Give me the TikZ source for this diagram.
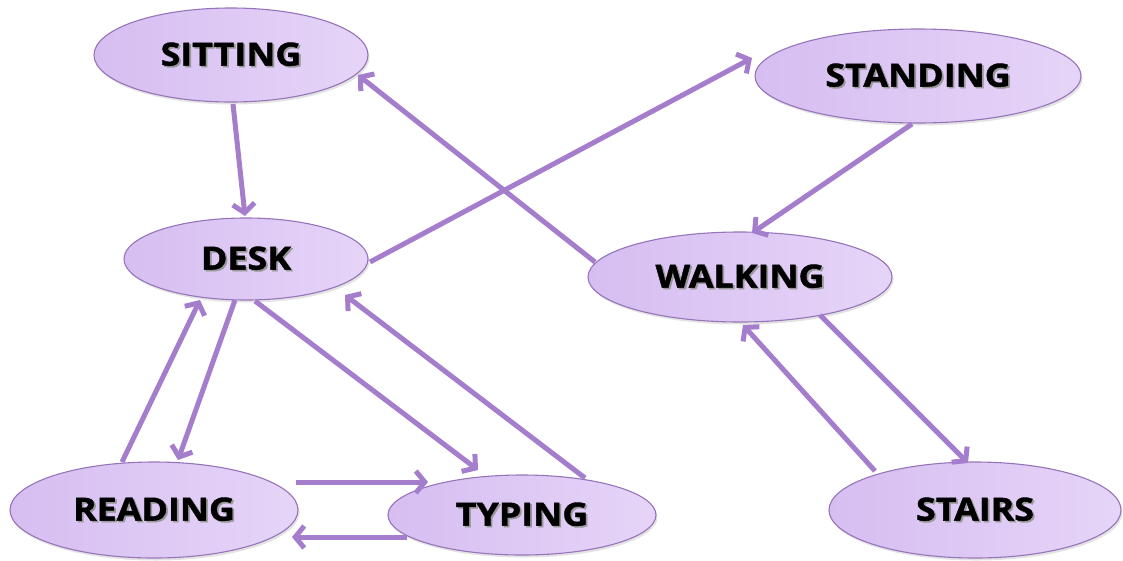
\documentclass[tikz,border=0pt]{standalone}
\usepackage{fontspec}
\setmainfont{Open Sans}[BoldFeatures={FakeBold=1.2}]
\usetikzlibrary{arrows.meta,shadows,shapes.geometric}

\definecolor{arrowpurple}{RGB}{164,126,204}
\definecolor{fillleft}{RGB}{214,190,241}
\definecolor{fillright}{RGB}{230,212,248}
\definecolor{rimpurple}{RGB}{150,116,186}

% label text, widened a little, with a soft grey drop behind it
\newcommand\shadowedlabel[1]{\scalebox{1.12}[1]{\rlap{\kern1.6pt\raisebox{-1.6pt}{\textcolor{black!40}{#1}}}#1}}

\tikzset{
  state/.style 2 args={ellipse, draw=rimpurple, line width=1.1pt,
    left color=fillleft, right color=fillright,
    minimum width=#1, minimum height=#2, inner sep=0pt,
    drop shadow={shadow xshift=1.5pt, shadow yshift=-2.5pt, opacity=0.22},
    font=\fontsize{32}{34}\selectfont\bfseries},
  flow/.style={draw=arrowpurple, line width=5pt,
    -{Straight Barb[length=9pt,width=22pt]}},
}

\begin{document}
\begin{tikzpicture}[x=1pt,y=1pt]
  \useasboundingbox (0,0) rectangle (1123,-560);

  % activity states
  \node[state={274}{94}] (sitting)  at (231,-55)  {\shadowedlabel{SITTING}};
  \node[state={326}{94}] (standing) at (918,-76)  {\shadowedlabel{STANDING}};
  \node[state={244}{82}] (desk)     at (246,-259) {\shadowedlabel{DESK}};
  \node[state={304}{90}] (walking)  at (740,-277) {\shadowedlabel{WALKING}};
  \node[state={288}{96}] (reading)  at (154,-510) {\shadowedlabel{READING}};
  \node[state={268}{80}] (typing)   at (522,-515) {\shadowedlabel{TYPING}};
  \node[state={292}{96}] (stairs)   at (975,-510) {\shadowedlabel{STAIRS}};

  % transitions
  \draw[flow] ([shift={(2,-49)}]sitting.center)   -- ([shift={(-1,43)}]desk.center);
  \draw[flow] ([shift={(124,-3)}]desk.center)     -- ([shift={(-166,18)}]standing.center);
  \draw[flow] ([shift={(-6,-48)}]standing.center) -- ([shift={(12,44)}]walking.center);
  \draw[flow] ([shift={(-145,15)}]walking.center) -- ([shift={(127,-20)}]sitting.center);
  \draw[flow] ([shift={(80,-38)}]walking.center)  -- ([shift={(-7,47)}]stairs.center);
  \draw[flow] ([shift={(-100,39)}]stairs.center)  -- ([shift={(3,-48)}]walking.center);
  \draw[flow] ([shift={(-11,-41)}]desk.center)    -- ([shift={(24,50)}]reading.center);
  \draw[flow] ([shift={(-32,48)}]reading.center)  -- ([shift={(-46,-41)}]desk.center);
  \draw[flow] ([shift={(9,-42)}]desk.center)      -- ([shift={(-44,45)}]typing.center);
  \draw[flow] ([shift={(63,37)}]typing.center)    -- ([shift={(99,-36)}]desk.center);
  \draw[flow] ([shift={(142,28)}]reading.center)  -- ([shift={(-94,33)}]typing.center);
  \draw[flow] ([shift={(-115,-22)}]typing.center) -- ([shift={(138,-27)}]reading.center);
\end{tikzpicture}
\end{document}
